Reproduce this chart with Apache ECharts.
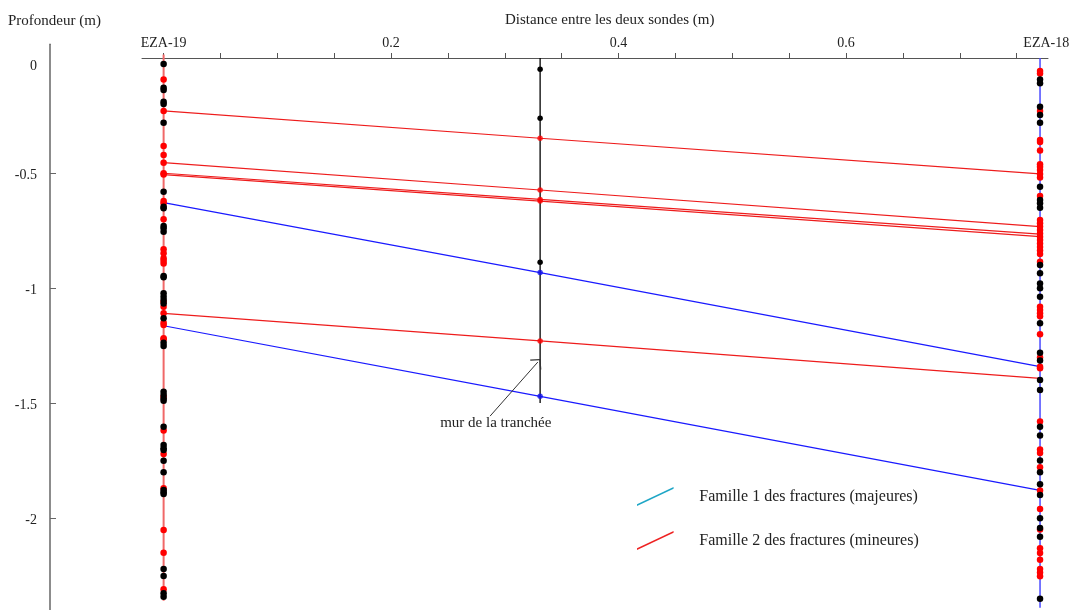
<!DOCTYPE html>
<html>
<head>
<meta charset="utf-8">
<script src="https://cdn.jsdelivr.net/npm/echarts@6/dist/echarts.min.js"></script>
<style>
html,body{margin:0;padding:0;background:#fff;}
#chart{width:1077px;height:610px;}
</style>
</head>
<body>
<div id="chart"></div>
<script>
// ---- Data (distance along x in m, depth in m) ----
const X_EZA19 = 0;
const X_MUR = 0.331;
const X_EZA18 = 0.7705;

// borehole extents [top, bottom]
const eza19Extent = [0.015, -2.36];
const eza18Extent = [0.0, -2.39];
const murExtent = [0.0, -1.50];

// observations along EZA-19
const eza19Black = [-0.026, -0.129, -0.139, -0.190, -0.200, -0.281, -0.581, -0.647, -0.653, -0.730, -0.740, -0.755,
  -0.948, -0.953, -1.023, -1.038, -1.052, -1.067, -1.132, -1.238, -1.252, -1.451, -1.465, -1.480, -1.490,
  -1.603, -1.683, -1.697, -1.704, -1.751, -1.801, -1.878, -1.888, -1.896, -2.222, -2.252, -2.327, -2.342];
const eza19Red = [-0.093, -0.230, -0.383, -0.422, -0.455, -0.501, -0.507, -0.622, -0.632, -0.701, -0.832, -0.849,
  -0.871, -0.881, -0.893, -1.060, -1.081, -1.110, -1.151, -1.161, -1.219, -1.223, -1.473, -1.620, -1.722,
  -1.871, -2.052, -2.151, -2.310];

// observations along EZA-18
const eza18Black = [-0.093, -0.110, -0.212, -0.248, -0.281, -0.560, -0.617, -0.632, -0.651, -0.900, -0.936, -0.980,
  -1.001, -1.038, -1.153, -1.281, -1.315, -1.400, -1.443, -1.603, -1.641, -1.750, -1.801, -1.853, -1.900,
  -2.001, -2.043, -2.081, -2.351];
const eza18Red = [-0.057, -0.067, -0.230, -0.357, -0.365, -0.402, -0.462, -0.473, -0.487, -0.504, -0.520, -0.600,
  -0.704, -0.719, -0.733, -0.748, -0.763, -0.777, -0.791, -0.807, -0.822, -0.837, -0.852, -0.886, -1.081,
  -1.096, -1.110, -1.123, -1.201, -1.302, -1.342, -1.349, -1.580, -1.702, -1.717, -1.779, -1.880, -1.961,
  -2.050, -2.132, -2.152, -2.181, -2.222, -2.237, -2.253];

// extra black points on the trench wall
const murBlack = [-0.049, -0.262, -0.888];

// fractures: depth at EZA-19, at trench wall, at EZA-18, family
const fracLeft  = [-0.230, -0.455, -0.501, -0.507, -0.629, -1.110, -1.164];
const fracMid   = [-0.349, -0.574, -0.615, -0.622, -0.933, -1.230, -1.471];
const fracRight = [-0.504, -0.733, -0.766, -0.777, -1.342, -1.393, -1.880];
const fracFamily = [2, 2, 2, 2, 1, 2, 1];

// annotation (arrow from text to trench wall)
const arrowFrom = [0.287, -1.557];
const arrowTo = [0.329, -1.322];
const annotationAt = [0.292, -1.587];
const annotationText = 'mur de la tranchée';

// axis ticks & labels
const xTickValues = [0, 0.05, 0.1, 0.15, 0.2, 0.25, 0.3, 0.35, 0.4, 0.45, 0.5, 0.55, 0.6, 0.65, 0.7, 0.75];
const xLabelValues = [0, 0.2, 0.4, 0.6, 0.776];
const xLabelTexts = ['EZA-19', '0.2', '0.4', '0.6', 'EZA-18'];
const yLabelValues = [-0.035, -0.509, -1.009, -1.509, -2.009];
const yLabelTexts = ['0', '-0.5', '-1', '-1.5', '-2'];
const yMajorTicks = [-0.5, -1, -1.5, -2];
const yMinorTicks = [-0.1, -0.2, -0.3, -0.4, -0.6, -0.7, -0.8, -0.9, -1.1, -1.2, -1.3, -1.4,
  -1.6, -1.7, -1.8, -1.9, -2.1, -2.2, -2.3];

const FAM1 = 'Famille 1 des fractures (majeures)';
const FAM2 = 'Famille 2 des fractures (mineures)';

// ---- Build options ----
const SERIF = 'Liberation Serif, Times New Roman, serif';
const pts = (x, arr) => arr.map(v => [x, v]);
const pick = (vals, texts) => v => { const i = vals.findIndex(a => Math.abs(a - v) < 1e-6); return i >= 0 ? texts[i] : ''; };

const series = [];
series.push({
  type: 'line', name: 'EZA-19', data: pts(X_EZA19, eza19Extent), symbol: 'none',
  lineStyle: { color: '#f06868', width: 2 }, z: 2, silent: true
});
series.push({
  type: 'line', name: 'EZA-18', data: pts(X_EZA18, eza18Extent), symbol: 'none',
  lineStyle: { color: '#4a4aff', width: 1.5 }, z: 2, silent: true
});
series.push({
  type: 'line', name: 'mur', data: pts(X_MUR, murExtent), symbol: 'none',
  lineStyle: { color: '#000', width: 1.3 }, z: 2, silent: true,
  markLine: {
    silent: true, symbol: ['none', 'path://M0,7 L7,0 L14,7 L13,7.8 L7,1.7 L1,7.8 Z'], symbolSize: [15, 8],
    lineStyle: { color: '#333', width: 1, type: 'solid' }, itemStyle: { color: '#555' }, label: { show: false },
    data: [[{ coord: arrowFrom }, { coord: arrowTo }]]
  },
  markPoint: {
    silent: true, symbol: 'circle', symbolSize: 0,
    data: [{
      coord: annotationAt,
      label: { show: true, position: 'inside', formatter: annotationText,
        fontFamily: SERIF, fontSize: 15, color: '#222' }
    }]
  }
});

for (let i = 0; i < fracLeft.length; i++) {
  const fam = fracFamily[i];
  series.push({
    type: 'line', name: fam === 1 ? FAM1 : FAM2,
    data: [[X_EZA19, fracLeft[i]], [X_MUR, fracMid[i]], [X_EZA18, fracRight[i]]],
    symbol: 'none', z: 3,
    lineStyle: { color: fam === 1 ? '#1a1aff' : '#ee1c1c', width: 1.2 },
    itemStyle: { color: fam === 1 ? '#1a1aff' : '#ee1c1c' }
  });
}

function dots(name, x, arr, color, size) {
  return { type: 'scatter', name: name, data: pts(x, arr), symbol: 'circle', symbolSize: size,
    itemStyle: { color: color, opacity: 1 }, z: 5, silent: true };
}
series.push(dots('d19r', X_EZA19, eza19Red, '#ff0000', 6.5));
series.push(dots('d19b', X_EZA19, eza19Black, '#000000', 6.5));
series.push(dots('d18r', X_EZA18, eza18Red, '#ff0000', 6.5));
series.push(dots('d18b', X_EZA18, eza18Black, '#000000', 6.5));
series.push(dots('dmb', X_MUR, murBlack, '#000000', 5.5));
series.push({
  type: 'scatter', name: 'dmf', symbol: 'circle', symbolSize: 5.5, z: 6, silent: true,
  data: fracMid.map((v, i) => ({ value: [X_MUR, v], itemStyle: { color: fracFamily[i] === 1 ? '#1010ee' : '#ff0000' } }))
});

const option = {
  animation: false,
  backgroundColor: '#fff',
  title: [
    { text: 'Distance entre les deux sondes (m)', left: 505, top: 13, padding: 0,
      textStyle: { fontFamily: SERIF, fontSize: 15, fontWeight: 'normal', color: '#222' } },
    { text: 'Profondeur (m)', left: 8, top: 14, padding: 0,
      textStyle: { fontFamily: SERIF, fontSize: 15, fontWeight: 'normal', color: '#222' } }
  ],
  legend: {
    orient: 'vertical', left: 637, top: 487, padding: 0,
    itemWidth: 38, itemHeight: 19, itemGap: 25, selectedMode: false,
    icon: 'path://M0,17 L36,0 L36,1.7 L0,18.7 Z',
    textStyle: { fontFamily: SERIF, fontSize: 16, color: '#222', padding: [0, 0, 0, 20] },
    data: [
      { name: FAM1, itemStyle: { color: '#1ea6c6' } },
      { name: FAM2, itemStyle: { color: '#ee2222' } }
    ]
  },
  grid: { left: 142, right: 29, top: 44.2, bottom: 0, containLabel: false },
  xAxis: {
    type: 'value', position: 'top', min: -0.019, max: 0.7775,
    axisLine: { show: true, onZero: true, lineStyle: { color: '#555', width: 1 } },
    axisTick: { show: true, customValues: xTickValues, length: 5, lineStyle: { color: '#555' } },
    splitLine: { show: false },
    axisLabel: {
      customValues: xLabelValues, margin: -6, fontFamily: SERIF, fontSize: 14, color: '#222',
      formatter: pick(xLabelValues, xLabelTexts)
    }
  },
  yAxis: [
    {
      type: 'value', min: -2.4, max: 0.06, offset: 92,
      axisLine: { show: true, onZero: false, lineStyle: { color: '#666', width: 1.5 } },
      axisTick: { show: true, customValues: yMajorTicks, inside: true, length: 6, lineStyle: { color: '#666' } },
      splitLine: { show: false },
      axisLabel: { customValues: yLabelValues, margin: 13, fontFamily: SERIF, fontSize: 14, color: '#222',
        formatter: pick(yLabelValues, yLabelTexts) }
    },
    {
      type: 'value', min: -2.4, max: 0.06, offset: 92,
      axisLine: { show: false, onZero: false },
      axisTick: { show: true, customValues: yMinorTicks, inside: true, length: 4, lineStyle: { color: '#666' } },
      splitLine: { show: false },
      axisLabel: { show: false }
    }
  ],
  series: series
};

const chart = echarts.init(document.getElementById('chart'), null, { renderer: 'canvas' });
chart.setOption(option);
</script>
</body>
</html>
